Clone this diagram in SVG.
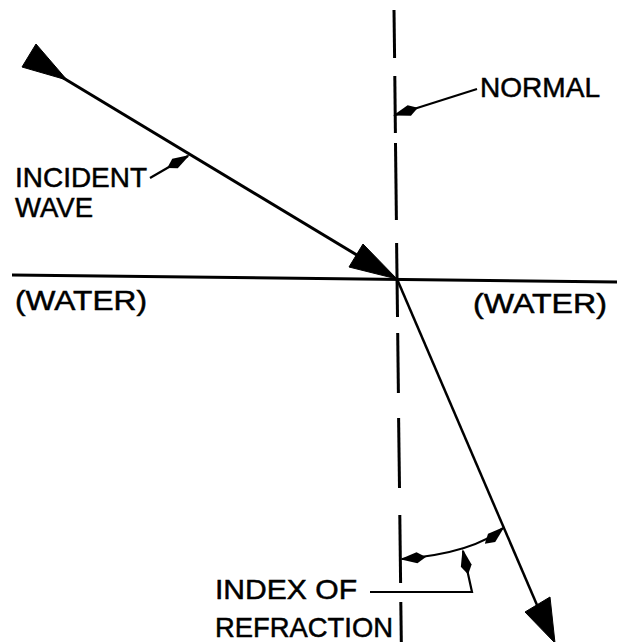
<svg xmlns="http://www.w3.org/2000/svg" width="620" height="642" viewBox="0 0 620 642">
  <style>
    .ln { stroke: #000; stroke-width: 3; fill: none; stroke-linecap: butt; }
    .thin { stroke: #000; stroke-width: 2.5; fill: none; }
    .lead { stroke: #000; stroke-width: 2.2; fill: none; }
    .head { fill: #000; stroke: #000; stroke-width: 1; stroke-linejoin: round; }
    .lbl { font-family: "Liberation Sans", Arial, sans-serif; font-size: 28px; fill: #000; stroke: #000; stroke-width: 0.5; }
  </style>
  <defs>
    <marker id="sm" viewBox="0 0 26 12" refX="24" refY="6" markerWidth="26" markerHeight="12" markerUnits="userSpaceOnUse" orient="auto-start-reverse">
      <path d="M0,6 L9,0.5 L26,6 L9,11.5 z" fill="#000"/>
    </marker>
  </defs>
  <rect width="620" height="642" fill="#fff"/>

  <g id="connectors">
    <!-- surface line -->
    <line class="ln" x1="12" y1="275" x2="617" y2="282"/>
    <!-- normal (dashed) -->
    <g id="normal-line" class="ln">
      <line x1="394" y1="10" x2="394.6" y2="58"/>
      <line x1="394.8" y1="76" x2="395.4" y2="133"/>
      <line x1="395.5" y1="143" x2="396.4" y2="220"/>
      <line x1="396.6" y1="243" x2="397.5" y2="317"/>
      <line x1="397.7" y1="333" x2="398.4" y2="393"/>
      <line x1="398.6" y1="418" x2="399.5" y2="488"/>
      <line x1="399.8" y1="515" x2="400.6" y2="583"/>
      <line x1="400.8" y1="602" x2="401.3" y2="642"/>
    </g>
    <!-- incident wave -->
    <line class="ln" x1="60" y1="76" x2="390" y2="275"/>
    <polygon class="head" points="36,44 22,67 67,80"/>
    <polygon class="head" points="363,244 349,267 397,279"/>
    <!-- refracted wave -->
    <line class="thin" x1="397" y1="279" x2="540" y2="612"/>
    <polygon class="head" points="525,612 550,597 555,643"/>
    <!-- angle arc -->
    <path class="lead" d="M402,559 Q474,553 503,528" marker-start="url(#sm)" marker-end="url(#sm)"/>
    <!-- leaders -->
    <line class="lead" x1="150" y1="178" x2="188" y2="156" marker-end="url(#sm)"/>
    <line class="lead" x1="477" y1="89" x2="395" y2="115" marker-end="url(#sm)"/>
    <polyline class="lead" points="370,592 472,592 463,551" marker-end="url(#sm)"/>
  </g>

  <g id="incident-label">
    <text class="lbl" x="15" y="187" textLength="132" lengthAdjust="spacingAndGlyphs">INCIDENT</text>
    <text class="lbl" x="15" y="217" textLength="78" lengthAdjust="spacingAndGlyphs">WAVE</text>
  </g>
  <g id="normal-label">
    <text class="lbl" x="480" y="97" textLength="120" lengthAdjust="spacingAndGlyphs">NORMAL</text>
  </g>
  <g id="water-left">
    <text class="lbl" x="15" y="310" textLength="132" lengthAdjust="spacingAndGlyphs">(WATER)</text>
  </g>
  <g id="water-right">
    <text class="lbl" x="473" y="313" textLength="134" lengthAdjust="spacingAndGlyphs">(WATER)</text>
  </g>
  <g id="index-label">
    <text class="lbl" x="215" y="599" textLength="142" lengthAdjust="spacingAndGlyphs">INDEX OF</text>
    <text class="lbl" x="215" y="637" textLength="178" lengthAdjust="spacingAndGlyphs">REFRACTION</text>
  </g>
</svg>
